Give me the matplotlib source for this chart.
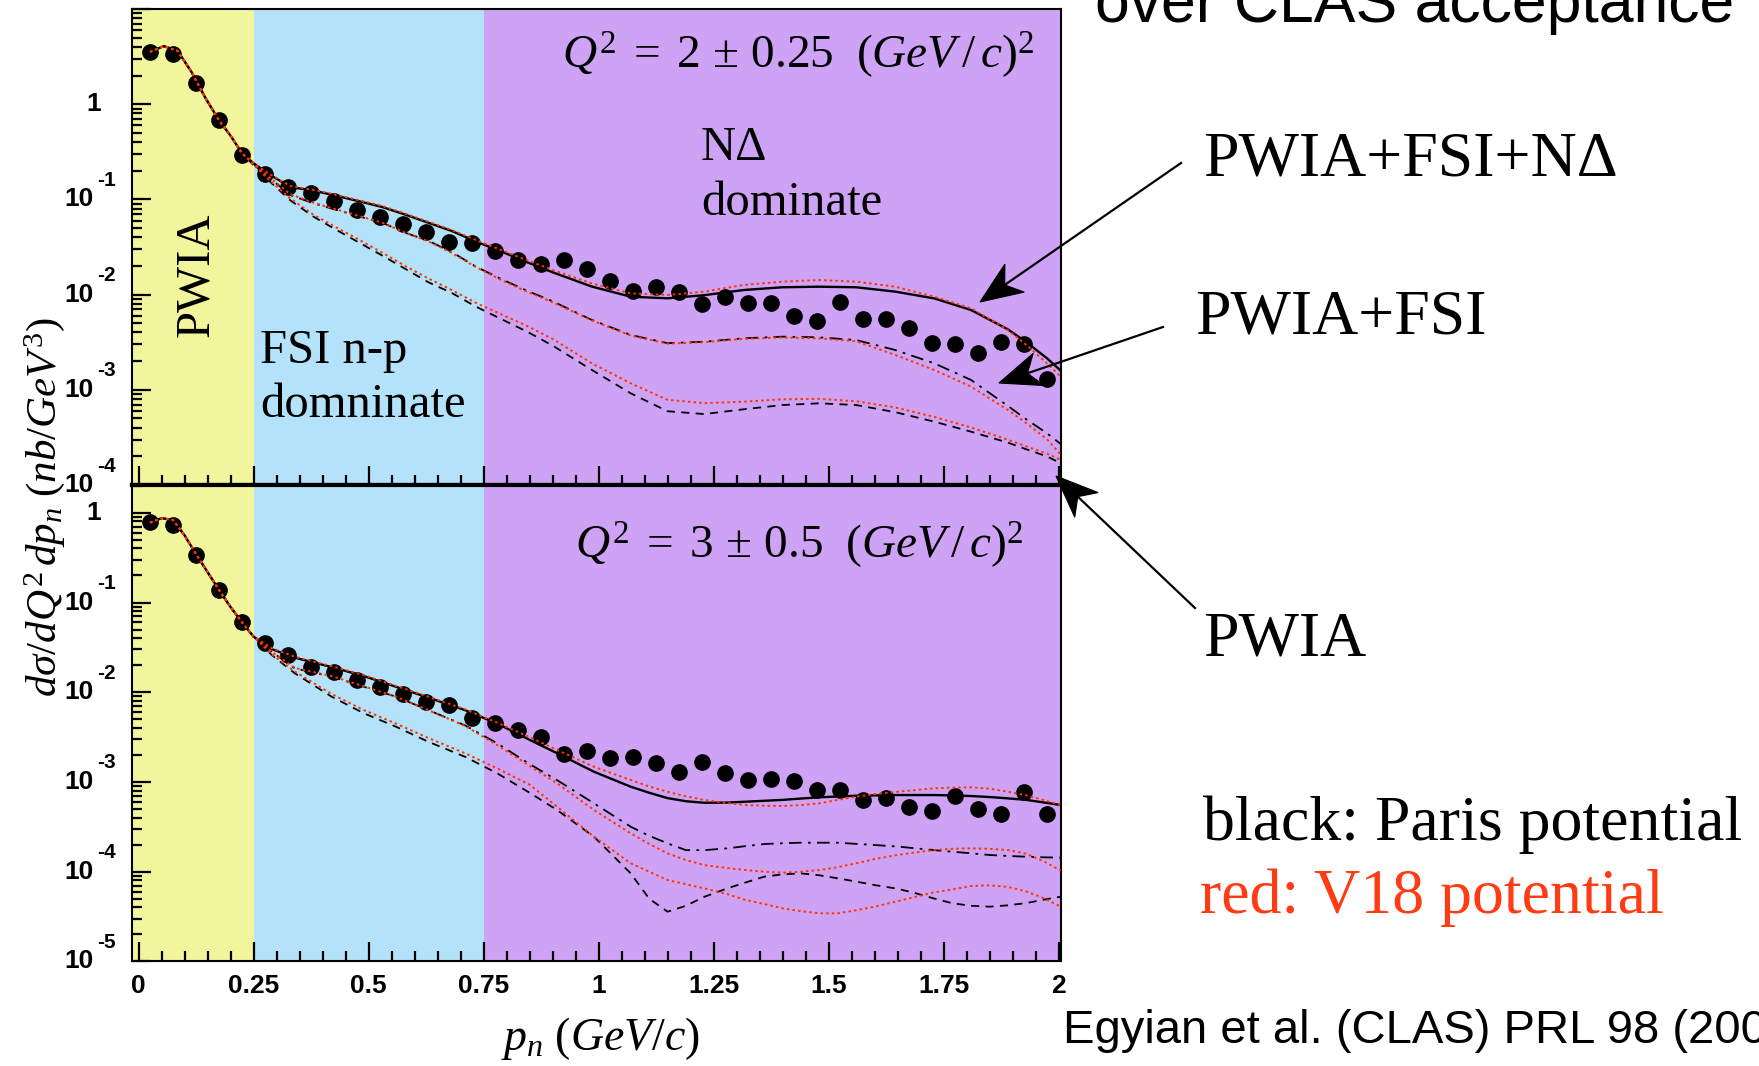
import numpy as np
import matplotlib
matplotlib.use("Agg")
import matplotlib.pyplot as plt
import matplotlib.transforms as mtransforms
from matplotlib.patches import Polygon
from matplotlib.lines import Line2D
from matplotlib.ticker import FixedLocator, FixedFormatter, LogLocator, NullFormatter, MultipleLocator

plt.rcParams['mathtext.fontset'] = 'custom'
plt.rcParams['mathtext.rm'] = 'Liberation Serif'
plt.rcParams['mathtext.it'] = 'Liberation Serif:italic'
plt.rcParams['mathtext.bf'] = 'Liberation Sans:bold'

# ---------------- data ----------------
# measured points (bin centres, GeV/c)
pn_points = [0.025, 0.075, 0.125, 0.175, 0.225, 0.275, 0.325, 0.375, 0.425, 0.475,
             0.525, 0.575, 0.625, 0.675, 0.725, 0.775, 0.825, 0.875, 0.925, 0.975,
             1.025, 1.075, 1.125, 1.175, 1.225, 1.275, 1.325, 1.375, 1.425, 1.475,
             1.525, 1.575, 1.625, 1.675, 1.725, 1.775, 1.825, 1.875, 1.925, 1.975]
q2_2_points = [3.57, 3.38, 1.69, 0.684, 0.295, 0.187, 0.136, 0.116, 0.097, 0.0776,
               0.0659, 0.0553, 0.0456, 0.0358, 0.0352, 0.0285, 0.0233, 0.0208, 0.0231, 0.0185,
               0.0140, 0.0110, 0.0121, 0.0107, 0.0080, 0.0095, 0.0082, 0.0081, 0.0060, 0.0053,
               0.0084, 0.0055, 0.0056, 0.0045, 0.0031, 0.0030, 0.00245, 0.0032, 0.0030, 0.0013]
q2_3_points = [0.78, 0.73, 0.338, 0.138, 0.061, 0.0354, 0.0262, 0.0190, 0.0166, 0.0137,
               0.0114, 0.0096, 0.00783, 0.0072, 0.0052, 0.00457, 0.00379, 0.00319, 0.00205, 0.00223,
               0.00186, 0.00188, 0.00164, 0.00128, 0.00167, 0.00127, 0.00105, 0.00108, 0.00102, 0.00081,
               0.00081, 0.00063, 0.00067, 0.00052, 0.00047, 0.00070, 0.00050, 0.00044, 0.00078, 0.00044]

# theory curves, Q2 = 2 panel (log10 of cross section)
pn_curve_top = [0.025, 0.055, 0.085, 0.115, 0.145, 0.175, 0.20, 0.225, 0.25,
                0.285, 0.33, 0.38, 0.43, 0.48, 0.53, 0.58, 0.63, 0.68, 0.735,
                0.79, 0.845, 0.90, 0.985, 1.07, 1.15, 1.23, 1.315, 1.40, 1.48,
                1.56, 1.645, 1.73, 1.81, 1.89, 1.93, 1.975, 2.005]
top_common = [0.55, 0.61, 0.56, 0.34, 0.07, -0.17, -0.33, -0.515]
top_paris_full = top_common + [-0.62, -0.74, -0.87, -0.907, -0.962, -1.02, -1.08, -1.16, -1.245, -1.33, -1.445,
                               -1.55, -1.66, -1.765, -1.915, -2.022, -2.039, -2.006, -1.952, -1.923, -1.917,
                               -1.923, -1.969, -2.04, -2.162, -2.365, -2.50, -2.669, -2.80]
top_v18_full = top_common + [-0.62, -0.735, -0.86, -0.90, -0.952, -1.01, -1.07, -1.15, -1.235, -1.32, -1.43,
                             -1.535, -1.64, -1.74, -1.882, -1.987, -2.004, -1.969, -1.899, -1.864, -1.847,
                             -1.864, -1.917, -2.022, -2.144, -2.372, -2.529, -2.722, -2.862]
top_paris_fsi = top_common + [-0.63, -0.775, -0.955, -1.04, -1.11, -1.18, -1.245, -1.35, -1.435, -1.55, -1.71,
                              -1.84, -1.96, -2.07, -2.265, -2.424, -2.51, -2.495, -2.459, -2.442, -2.449,
                              -2.477, -2.582, -2.722, -2.897, -3.17, -3.31, -3.457, -3.57]
top_v18_fsi = top_common + [-0.63, -0.77, -0.945, -1.035, -1.105, -1.175, -1.245, -1.35, -1.44, -1.56, -1.715,
                            -1.85, -1.97, -2.08, -2.27, -2.43, -2.515, -2.50, -2.465, -2.45, -2.46,
                            -2.49, -2.634, -2.792, -2.967, -3.212, -3.35, -3.52, -3.68]
top_paris_pwia = top_common + [-0.64, -0.81, -1.01, -1.18, -1.32, -1.455, -1.59, -1.73, -1.87, -1.98, -2.13,
                               -2.26, -2.39, -2.535, -2.79, -3.037, -3.225, -3.255, -3.205, -3.16, -3.142,
                               -3.16, -3.235, -3.335, -3.44, -3.555, -3.625, -3.70, -3.772]
top_v18_pwia = top_common + [-0.635, -0.80, -0.99, -1.16, -1.295, -1.425, -1.56, -1.70, -1.83, -1.95, -2.09,
                             -2.21, -2.33, -2.465, -2.72, -2.932, -3.105, -3.14, -3.125, -3.10, -3.095,
                             -3.12, -3.185, -3.285, -3.395, -3.525, -3.595, -3.67, -3.737]

# theory curves, Q2 = 3 panel (log10)
pn_curve_bot = [0.025, 0.05, 0.075, 0.10, 0.125, 0.15, 0.175, 0.20, 0.225, 0.25,
                0.29, 0.34, 0.42, 0.49, 0.56, 0.63, 0.71, 0.78, 0.85, 0.91,
                0.99, 1.07, 1.11, 1.15, 1.19, 1.23, 1.28, 1.32, 1.36, 1.40,
                1.44, 1.48, 1.52, 1.56, 1.60, 1.65, 1.69, 1.73, 1.77, 1.81,
                1.85, 1.89, 1.93, 1.97, 2.005]
bot_common = [-0.11, -0.06, -0.08, -0.25, -0.46, -0.66, -0.86, -1.05, -1.22, -1.38]
bot_paris_full = bot_common + [-1.52, -1.615, -1.72, -1.82, -1.94, -2.06, -2.20, -2.35, -2.53, -2.68,
                               -2.886, -3.053, -3.12, -3.18, -3.215, -3.232, -3.23, -3.22, -3.21, -3.20,
                               -3.185, -3.171, -3.162, -3.154, -3.15, -3.146, -3.146, -3.146, -3.15, -3.157,
                               -3.168, -3.183, -3.20, -3.23, -3.257]
bot_v18_full = bot_common + [-1.51, -1.605, -1.71, -1.81, -1.93, -2.05, -2.19, -2.34, -2.50, -2.644,
                             -2.83, -2.979, -3.05, -3.109, -3.16, -3.201, -3.235, -3.257, -3.265, -3.268,
                             -3.258, -3.238, -3.20, -3.165, -3.135, -3.109, -3.09, -3.071, -3.063, -3.06,
                             -3.075, -3.109, -3.15, -3.205, -3.257]
bot_paris_fsi = bot_common + [-1.55, -1.734, -1.827, -1.939, -2.05, -2.199, -2.37, -2.57, -2.80, -2.98,
                              -3.238, -3.499, -3.60, -3.684, -3.76, -3.76, -3.74, -3.715, -3.692, -3.683,
                              -3.677, -3.677, -3.677, -3.69, -3.703, -3.72, -3.74, -3.76, -3.778, -3.795,
                              -3.814, -3.825, -3.833, -3.84, -3.844]
bot_v18_fsi = bot_common + [-1.55, -1.73, -1.82, -1.935, -2.05, -2.20, -2.375, -2.59, -2.82, -3.016,
                            -3.313, -3.573, -3.69, -3.796, -3.87, -3.926, -3.96, -3.982, -4.0, -4.012,
                            -4.0, -3.982, -3.95, -3.907, -3.86, -3.814, -3.785, -3.759, -3.745, -3.74,
                            -3.745, -3.759, -3.80, -3.89, -3.989]
bot_paris_pwia = bot_common + [-1.587, -1.79, -2.05, -2.235, -2.385, -2.552, -2.72, -2.904, -3.12, -3.313,
                               -3.61, -4.019, -4.30, -4.446, -4.38, -4.28, -4.186, -4.12, -4.056, -4.03,
                               -4.019, -4.04, -4.074, -4.11, -4.149, -4.19, -4.241, -4.30, -4.353, -4.38,
                               -4.39, -4.375, -4.35, -4.31, -4.279]
bot_v18_pwia = bot_common + [-1.58, -1.77, -2.02, -2.20, -2.35, -2.51, -2.68, -2.85, -3.03, -3.276,
                             -3.61, -3.907, -4.00, -4.093, -4.14, -4.186, -4.25, -4.316, -4.36, -4.409,
                             -4.44, -4.464, -4.464, -4.43, -4.39, -4.33, -4.279, -4.23, -4.197, -4.16,
                             -4.152, -4.17, -4.22, -4.30, -4.39]

region_edges = [0.25, 0.75]
x_tick_vals = [0, 0.25, 0.5, 0.75, 1, 1.25, 1.5, 1.75, 2]
x_tick_labels = ['0', '0.25', '0.5', '0.75', '1', '1.25', '1.5', '1.75', '2']
top_decades = [-4, -3, -2, -1, 0]
bot_decades = [-5, -4, -3, -2, -1, 0]

# ---------------- style ----------------
W, H = 1759, 1066
YELLOW = '#f1f59b'
BLUE = '#b3e2fa'
PURPLE = '#cea3f6'
RED = '#ff3300'
XLIM = (-0.0135, 2.0054)

fig = plt.figure(figsize=(W / 100, H / 100), dpi=100)
fig.patch.set_facecolor('white')
L, R = 132.3, 1061.0
ax1 = fig.add_axes([L / W, 1 - 485 / H, (R - L) / W, (485 - 9) / H])
ax2 = fig.add_axes([L / W, 1 - 961.4 / H, (R - L) / W, (961.4 - 485) / H])


def style_axis(ax, ylim, decades, show_xlabels):
    ax.set_xlim(*XLIM)
    ax.set_yscale('log')
    ax.set_ylim(*ylim)
    ax.axvspan(XLIM[0], region_edges[0], color=YELLOW, zorder=0, lw=0)
    ax.axvspan(region_edges[0], region_edges[1], color=BLUE, zorder=0, lw=0)
    ax.axvspan(region_edges[1], XLIM[1], color=PURPLE, zorder=0, lw=0)
    ax.xaxis.set_major_locator(FixedLocator(x_tick_vals))
    ax.xaxis.set_minor_locator(MultipleLocator(0.05))
    if show_xlabels:
        ax.xaxis.set_major_formatter(FixedFormatter(x_tick_labels))
    else:
        ax.xaxis.set_major_formatter(NullFormatter())
    ax.yaxis.set_major_locator(FixedLocator([10.0 ** e for e in decades] + [10.0]))
    ax.yaxis.set_major_formatter(NullFormatter())
    ax.yaxis.set_minor_locator(LogLocator(base=10, subs=np.arange(2, 10), numticks=50))
    ax.yaxis.set_minor_formatter(NullFormatter())
    ax.tick_params(which='both', direction='in', top=False, right=False, width=1.6, color='black')
    ax.tick_params(which='major', length=13.5)
    ax.tick_params(which='minor', length=7)
    ax.tick_params(axis='x', which='major', pad=9)
    for lab in ax.get_xticklabels():
        lab.set_fontfamily('Liberation Sans')
        lab.set_fontweight('bold')
        lab.set_fontsize(19)
    for s in ax.spines.values():
        s.set_linewidth(1.5)
    ax.set_facecolor('none')
    # ROOT-style log labels: "10" with a raised exponent
    trans = mtransforms.blended_transform_factory(ax.transAxes, ax.transData)
    for e in decades:
        if e == 0:
            t = mtransforms.offset_copy(trans, fig=fig, x=-31, y=0, units='dots')
            ax.text(0, 1.0, '1', transform=t, ha='right', va='center', family='Liberation Sans',
                    weight='bold', fontsize=19, clip_on=False)
        else:
            t = mtransforms.offset_copy(trans, fig=fig, x=-39, y=0, units='dots')
            ax.text(0, 10.0 ** e, '10', transform=t, ha='right', va='center', family='Liberation Sans',
                    weight='bold', fontsize=19, clip_on=False)
            t2 = mtransforms.offset_copy(trans, fig=fig, x=-35, y=19, units='dots')
            ax.text(0, 10.0 ** e, '-%d' % (-e), transform=t2, ha='left', va='center',
                    family='Liberation Sans', weight='bold', fontsize=15, clip_on=False)


style_axis(ax1, (1e-4, 10.0), top_decades, False)
style_axis(ax2, (1e-5, 2.04), bot_decades, True)
ax1.spines['bottom'].set_linewidth(3.0)
ax2.spines['top'].set_linewidth(3.0)


def draw_panel(ax, xc, curves, yp):
    ax.plot(pn_points, yp, 'o', color='black', ms=11, zorder=3)
    paris_full, v18_full, paris_fsi, v18_fsi, paris_pwia, v18_pwia = curves
    p = lambda v: np.power(10.0, v)
    ax.plot(xc, p(paris_full), '-', color='black', lw=1.7, zorder=4)
    ax.plot(xc, p(paris_fsi), color='black', lw=1.3, ls=(0, (7, 3.5, 1.5, 3.5)), zorder=4)
    ax.plot(xc, p(paris_pwia), color='black', lw=1.3, ls=(0, (4.5, 3.5)), zorder=4)
    for c in (v18_full, v18_fsi, v18_pwia):
        ax.plot(xc, p(c), color=RED, lw=1.4, ls=(0, (1.3, 1.6)), zorder=5)


draw_panel(ax1, pn_curve_top,
           (top_paris_full, top_v18_full, top_paris_fsi, top_v18_fsi, top_paris_pwia, top_v18_pwia),
           q2_2_points)
draw_panel(ax2, pn_curve_bot,
           (bot_paris_full, bot_v18_full, bot_paris_fsi, bot_v18_fsi, bot_paris_pwia, bot_v18_pwia),
           q2_3_points)

serif = 'Liberation Serif'
# panel annotations
ax1.text(0.0686, 0.441, 'PWIA', rotation=90, transform=ax1.transAxes, ha='center', va='center',
         family=serif, fontsize=35, zorder=6)
ax1.text(0.1375, 0.2563, 'FSI n-p', transform=ax1.transAxes, ha='left', va='baseline',
         family=serif, fontsize=35, zorder=6)
ax1.text(0.1375, 0.1429, 'domninate', transform=ax1.transAxes, ha='left', va='baseline',
         family=serif, fontsize=35, zorder=6)
ax1.text(0.6124, 0.6828, 'N\u0394', transform=ax1.transAxes, ha='left', va='baseline',
         family=serif, fontsize=35, zorder=6)
ax1.text(0.6124, 0.5672, 'dominate', transform=ax1.transAxes, ha='left', va='baseline',
         family=serif, fontsize=35, zorder=6)
ax1.text(0.971, 0.876, r'$Q^{2}\;=\;2\,\pm\,0.25\ \ (GeV\,/\,c)^{2}$', transform=ax1.transAxes,
         ha='right', va='baseline', fontsize=34, zorder=6)
ax2.text(0.960, 0.847, r'$Q^{2}\;=\;3\,\pm\,0.5\ \ (GeV\,/\,c)^{2}$', transform=ax2.transAxes,
         ha='right', va='baseline', fontsize=34, zorder=6)

# axis titles
fig.text(45 / W, 1 - 507 / H, r'$d\sigma/dQ^{2}\,dp_{n}\ (nb/GeV^{3})$', rotation=90,
         ha='center', va='center', fontsize=31)
fig.text(600 / W, 1 - 1038 / H, r'$p_{n}\ (GeV/c)$', ha='center', va='center', fontsize=33)

# right side texts
fig.text(1095 / W, 1 - 22 / H, 'over CLAS acceptance', family='Liberation Sans',
         fontsize=45, ha='left', va='baseline')
fig.text(1203 / W, 1 - 176 / H, 'PWIA+FSI+N\u0394', family=serif, fontsize=46, ha='left', va='baseline')
fig.text(1195 / W, 1 - 334 / H, 'PWIA+FSI', family=serif, fontsize=46, ha='left', va='baseline')
fig.text(1203 / W, 1 - 656 / H, 'PWIA', family=serif, fontsize=46, ha='left', va='baseline')
fig.text(1203 / W, 1 - 840 / H, 'black: Paris potential', family=serif, fontsize=46,
         ha='left', va='baseline', color='black')
fig.text(1200 / W, 1 - 913 / H, 'red: V18 potential', family=serif, fontsize=46,
         ha='left', va='baseline', color='#ff3b14')
fig.text(1063 / W, 1 - 1043 / H, 'Egyian et al. (CLAS) PRL 98 (2007)', family='Liberation Sans',
         fontsize=34, ha='left', va='baseline')


def arrow(x0, y0, x1, y1, head_len=42.0, half_w=17.0, notch=12.0):
    # geometry computed in pixel space (y downwards), then mapped to figure fraction
    s = np.array([x0, y0], float)
    t = np.array([x1, y1], float)
    u = (t - s) / np.hypot(*(t - s))
    n = np.array([-u[1], u[0]])
    b1 = t - head_len * u + half_w * n
    b2 = t - head_len * u - half_w * n
    nb = t - (head_len - notch) * u
    f = lambda q: (q[0] / W, 1 - q[1] / H)
    fig.add_artist(Line2D([f(s)[0], f(nb)[0]], [f(s)[1], f(nb)[1]], transform=fig.transFigure,
                          color='black', lw=1.6, zorder=10))
    fig.add_artist(Polygon([f(t), f(b1), f(nb), f(b2)], closed=True, transform=fig.transFigure,
                           facecolor='black', edgecolor='black', lw=0.8, zorder=10))


arrow(1181, 163, 980, 302)
arrow(1163, 327, 999, 383)
arrow(1195, 608, 1056, 476)

fig.savefig('out.png', dpi=100)
